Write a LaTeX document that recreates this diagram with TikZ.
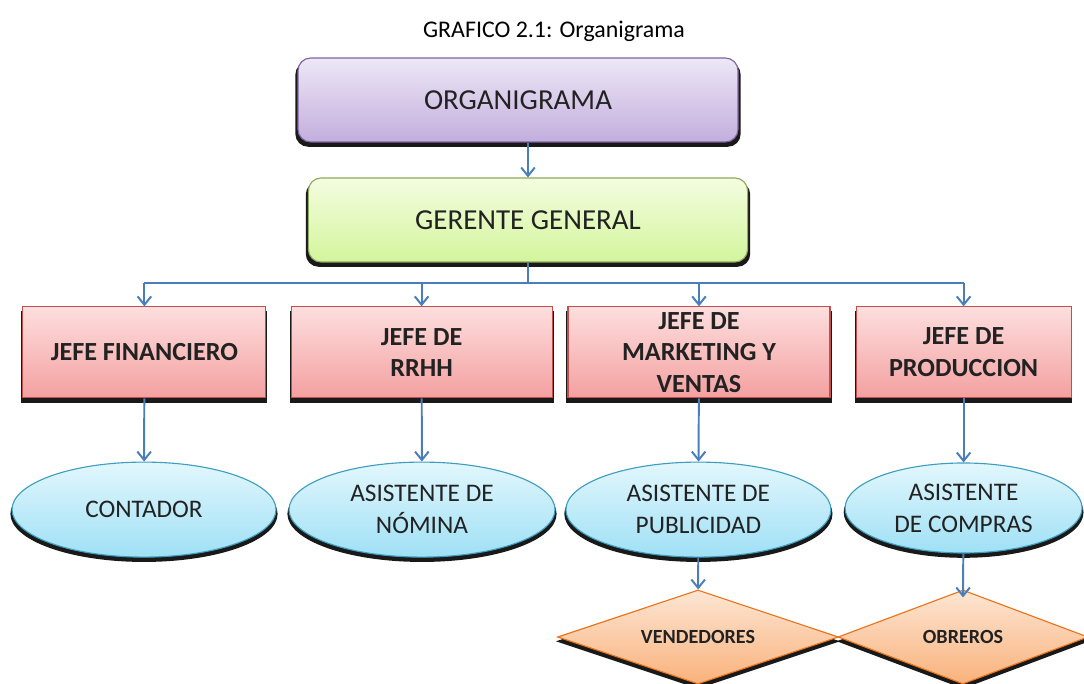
\documentclass[tikz,border=0pt]{standalone}
\usepackage{fontspec}
\setmainfont{Carlito}
\usepackage{tikz}
\usetikzlibrary{arrows.meta,shapes,shadows,positioning}
\definecolor{linea}{HTML}{4A7EBB}
\definecolor{texto}{HTML}{222222}
\definecolor{orgborde}{HTML}{7F63A1}
\definecolor{orgarriba}{HTML}{EDE7F6}
\definecolor{orgabajo}{HTML}{C3AEDD}
\definecolor{gerborde}{HTML}{8EAA5C}
\definecolor{gerarriba}{HTML}{F4FDE0}
\definecolor{gerabajo}{HTML}{D3F59C}
\definecolor{jefeborde}{HTML}{C0504D}
\definecolor{jefearriba}{HTML}{FDDEDE}
\definecolor{jefeabajo}{HTML}{F4A0A0}
\definecolor{asistborde}{HTML}{3F9DBF}
\definecolor{asistarriba}{HTML}{E2F7FD}
\definecolor{asistabajo}{HTML}{9FE0F5}
\definecolor{romboborde}{HTML}{E9741A}
\definecolor{romboarriba}{HTML}{FDE6D3}
\definecolor{romboabajo}{HTML}{F9B27C}
\tikzset{>={Straight Barb[width=3.4mm,length=2.1mm,line width=1.4pt]}}
\tikzset{sombra/.style={drop shadow={shadow xshift=0pt, shadow yshift=-3pt,
    shadow scale=1.012, fill=black, opacity=.9}}}
\tikzset{tope/.style={shape=rectangle, rounded corners=9pt, line width=.8pt,
    sombra, text=texto, font=\fontsize{20.6}{24}\selectfont, align=center, inner sep=0pt}}
\tikzset{jefe/.style={shape=rectangle, draw=jefeborde, line width=.8pt, sombra,
    top color=jefearriba, bottom color=jefeabajo, text=texto,
    font=\bfseries\fontsize{18.6}{22.5}\selectfont, align=center, inner sep=0pt,
    minimum height=2.275cm}}
\tikzset{asist/.style={shape=ellipse, draw=asistborde, line width=.8pt, sombra,
    top color=asistarriba, bottom color=asistabajo, text=texto,
    font=\fontsize{18}{22.6}\selectfont, align=center, inner sep=0pt,
    minimum height=2.375cm}}
\tikzset{rombo/.style={shape=diamond, draw=romboborde, line width=.8pt, sombra,
    top color=romboarriba, bottom color=romboabajo, text=texto,
    font=\bfseries\fontsize{14.3}{17}\selectfont, inner sep=0pt, aspect=3,
    minimum height=2.35cm}}
\tikzset{flecha/.style={draw=linea, line width=1.4pt}}

\begin{document}
\begin{tikzpicture}[align=center]
    \useasboundingbox (0,0) rectangle (27.1,-17.1);

    \node (titulo) at (13.85, -0.775) {\fontsize{17}{20}\selectfont GRAFICO 2.1: Organigrama};

    \node[tope, draw=orgborde, top color=orgarriba, bottom color=orgabajo,
      minimum width=11cm, minimum height=2.1cm] (org) at (12.95, -2.5) {ORGANIGRAMA};
    \node[tope, draw=gerborde, top color=gerarriba, bottom color=gerabajo,
      minimum width=10.98cm, minimum height=2.1cm] (ger) at (13.2, -5.5) {GERENTE GENERAL};

    \coordinate (bus) at (13.2, -7.075);

    \node[jefe, minimum width=6.075cm] (fin) at (3.61, -8.81) {JEFE FINANCIERO};
    \node[jefe, minimum width=6.525cm] (rrhh) at (10.54, -8.81) {JEFE DE\\RRHH};
    \node[jefe, minimum width=6.55cm] (mkt) at (17.475, -8.81) {JEFE DE\\MARKETING Y\\VENTAS};
    \node[jefe, minimum width=5.375cm] (prod) at (24.09, -8.81) {JEFE DE\\PRODUCCION};

    \node[asist, minimum width=6.6cm] (cont) at (3.6, -12.74) {CONTADOR};
    \node[asist, minimum width=6.65cm] (nom) at (10.55, -12.74) {ASISTENTE DE\\NÓMINA};
    \node[asist, minimum width=6.625cm] (pub) at (17.46, -12.74) {ASISTENTE DE\\PUBLICIDAD};
    \node[asist, minimum width=5.925cm, minimum height=2.25cm] (comp) at (24.09, -12.7) {ASISTENTE\\DE COMPRAS};

    \node[rombo, minimum width=7.025cm] (vend) at (17.45, -15.925) {VENDEDORES};
    \node[rombo, minimum width=6.25cm] (obr) at (24.075, -15.925) {OBREROS};

    \draw [->][flecha] (org.south -| ger.north) to (ger.north);
    \draw [flecha] (ger.south) to (bus);
    \draw [flecha] (bus -| fin) to (bus -| prod);

    \draw [->][flecha] (bus -| fin) to (fin.north);
    \draw [->][flecha] (bus -| rrhh) to (rrhh.north);
    \draw [->][flecha] (bus -| mkt) to (mkt.north);
    \draw [->][flecha] (bus -| prod) to (prod.north);

    \draw [->][flecha] (fin) to (cont);
    \draw [->][flecha] (rrhh) to (nom);
    \draw [->][flecha] (mkt) to (pub);
    \draw [->][flecha] (prod) to (comp);

    \draw [->][flecha] (pub) to (vend);
    \draw [->][flecha] (comp) to ([yshift=-2mm]obr.north);

\end{tikzpicture}
\end{document}
